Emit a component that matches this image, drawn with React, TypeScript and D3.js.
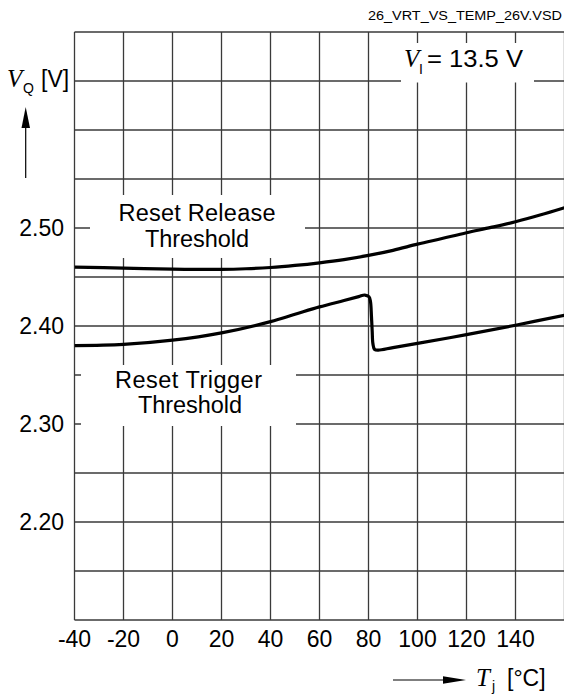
import React from "react";
import * as d3 from "d3";

const xTickValues = [-40, -20, 0, 20, 40, 60, 80, 100, 120, 140];
const xGridValues = [-40, -20, 0, 20, 40, 60, 80, 100, 120, 140, 160];
const yGridValues = [2.1, 2.15, 2.2, 2.25, 2.3, 2.35, 2.4, 2.45, 2.5, 2.55, 2.6, 2.65, 2.7];
const yTickValues = [2.2, 2.3, 2.4, 2.5];
const yTickLabels = ["2.20", "2.30", "2.40", "2.50"];

const releaseT = [-40, -20, 0, 20, 30, 40, 50, 60, 70, 80, 90, 100, 110, 120, 130, 140, 150, 160];
const releaseV = [2.46, 2.4591, 2.4581, 2.4578, 2.4584, 2.4597, 2.4618, 2.4645, 2.4678, 2.472, 2.4772, 2.4835, 2.4893, 2.4952, 2.5006, 2.5064, 2.5132, 2.5207];

const triggerT = [-40, -20, 0, 20, 40, 50, 60, 70, 76, 78.5, 80.2, 80.8, 81.2, 81.5, 81.8, 82.5, 84, 90, 100, 120, 140, 160];
const triggerV = [2.38, 2.3812, 2.3855, 2.393, 2.4045, 2.412, 2.4195, 2.426, 2.43, 2.4316, 2.4298, 2.425, 2.41, 2.395, 2.382, 2.376, 2.3753, 2.378, 2.3822, 2.3912, 2.4008, 2.411];

const SANS = "'Liberation Sans', Arial, sans-serif";
const SERIF = "'Liberation Serif', 'Times New Roman', serif";

export default function App() {
  const W = 564, H = 698;
  const x = d3.scaleLinear().domain([-40, 160]).range([74.5, 564.5]);
  const y = d3.scaleLinear().domain([2.1, 2.7]).range([620, 32]);
  const line = d3
    .line<[number, number]>()
    .x((d) => x(d[0]))
    .y((d) => y(d[1]))
    .curve(d3.curveCatmullRom.alpha(0.5));
  const release = line(releaseT.map((t, i) => [t, releaseV[i]] as [number, number])) || "";
  const trigger = line(triggerT.map((t, i) => [t, triggerV[i]] as [number, number])) || "";

  const gridColor = "#3a3a3a";
  return (
    <svg
      width={W}
      height={H}
      style={{ position: "absolute", left: 0, top: 0, background: "#fff" }}
    >
      <defs>
        <clipPath id="plot">
          <rect x={x(-40)} y={y(2.7)} width={x(160) - x(-40)} height={y(2.1) - y(2.7)} />
        </clipPath>
      </defs>
      <text x={562} y={20} fontFamily={SANS} fontSize={12} textAnchor="end" textLength={194} lengthAdjust="spacingAndGlyphs">
        26_VRT_VS_TEMP_26V.VSD
      </text>
      <g>
        {xGridValues.map((v) => (
          <line key={"vx" + v} x1={x(v)} x2={x(v)} y1={y(2.7)} y2={y(2.1)} stroke={gridColor} strokeWidth={1.3} />
        ))}
        {yGridValues.map((v) => (
          <line key={"hy" + v} x1={x(-40)} x2={x(160)} y1={y(v)} y2={y(v)} stroke={gridColor} strokeWidth={1.3} />
        ))}
      </g>
      {/* white label backgrounds */}
      <rect x={90} y={195} width={215} height={63} fill="#fff" />
      <rect x={81} y={365} width={215} height={61} fill="#fff" />
      <rect x={401} y={43} width={133} height={39.5} fill="#fff" />

      <g clipPath="url(#plot)" fill="none" stroke="#000" strokeWidth={3.2} strokeLinejoin="round">
        <path d={release} />
        <path d={trigger} />
      </g>

      <g fontFamily={SANS} fontSize={23.5} fill="#000" textAnchor="middle" lengthAdjust="spacingAndGlyphs">
        <text x={197} y={221} textLength={157}>Reset Release</text>
        <text x={197} y={247} textLength={104}>Threshold</text>
        <text x={188.5} y={388} textLength={147}>Reset Trigger</text>
        <text x={190} y={413} textLength={104}>Threshold</text>
      </g>

      <g>
        <text x={404} y={66.5} fontFamily={SERIF} fontStyle="italic" fontSize={25}>V</text>
        <text x={419} y={74} fontFamily={SANS} fontSize={14}>I</text>
        <text x={427} y={66.5} fontFamily={SANS} fontSize={23.5} textLength={96} lengthAdjust="spacingAndGlyphs">= 13.5 V</text>
      </g>

      <g fontFamily={SANS} fontSize={23} fill="#000">
        {yTickValues.map((v, i) => (
          <text key={"yl" + v} x={64} y={y(v) + 8} textAnchor="end">{yTickLabels[i]}</text>
        ))}
        {xTickValues.map((v) => (
          <text key={"xl" + v} x={x(v)} y={646.5} textAnchor="middle">{String(v)}</text>
        ))}
      </g>

      {/* Y axis label */}
      <g>
        <text x={7} y={87} fontFamily={SERIF} fontStyle="italic" fontSize={25}>V</text>
        <text x={23} y={93} fontFamily={SANS} fontSize={14}>Q</text>
        <text x={41} y={87} fontFamily={SANS} fontSize={23}>[V]</text>
        <line x1={25.7} x2={25.7} y1={178} y2={125} stroke="#000" strokeWidth={1.2} />
        <polygon points="25.7,107 21.5,128 30,128" fill="#000" />
      </g>

      {/* X axis label */}
      <g>
        <line x1={393} x2={450} y1={680} y2={680} stroke="#000" strokeWidth={1.2} />
        <polygon points="466,680 443,676.3 443,683.7" fill="#000" />
        <text x={476} y={686} fontFamily={SERIF} fontStyle="italic" fontSize={25}>T</text>
        <text x={492} y={691} fontFamily={SANS} fontSize={14}>j</text>
        <text x={507} y={686} fontFamily={SANS} fontSize={23}>[°C]</text>
      </g>
    </svg>
  );
}
